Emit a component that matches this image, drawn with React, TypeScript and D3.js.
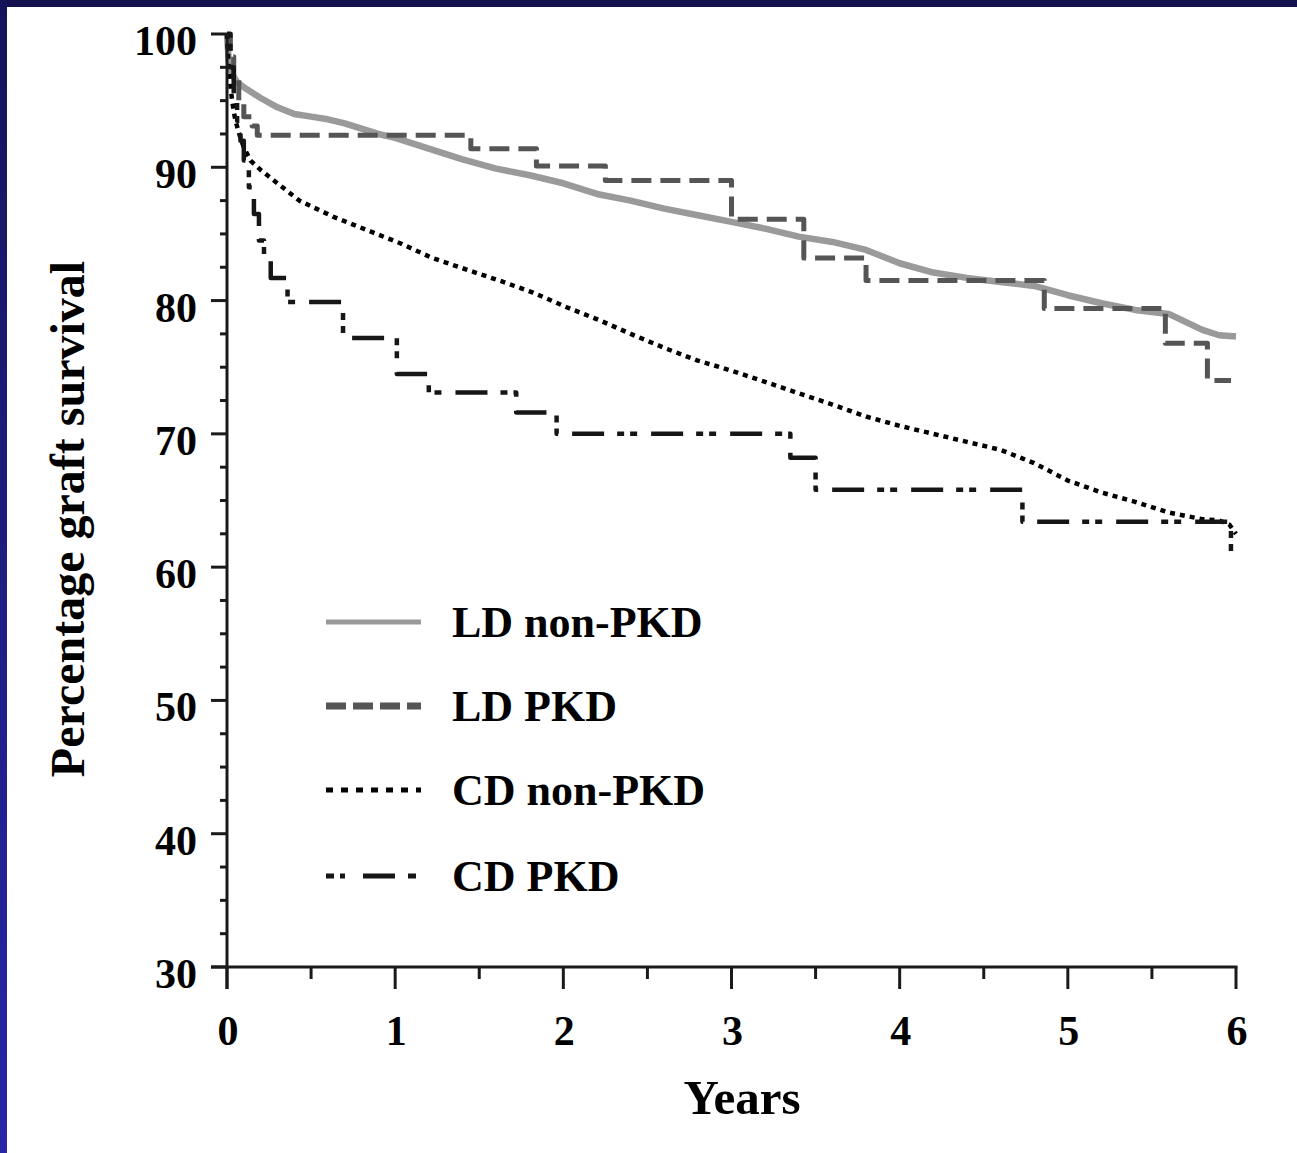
import React, { useEffect } from "react";
import * as d3 from "d3";

// ---- data ----
const yMajorTicks = [30, 40, 50, 60, 70, 80, 90, 100];
const xMajorTicks = [0, 1, 2, 3, 4, 5, 6];

const ldNonPkdYears = [0, 0.01, 0.03, 0.06, 0.1, 0.2, 0.3, 0.4, 0.5, 0.6, 0.7, 0.8, 0.9, 1.0, 1.2, 1.4, 1.6, 1.8, 2.0, 2.2, 2.4, 2.6, 2.8, 3.0, 3.2, 3.4, 3.6, 3.8, 4.0, 4.2, 4.4, 4.6, 4.8, 5.0, 5.2, 5.4, 5.6, 5.7, 5.8, 5.9, 6.0];
const ldNonPkdSurv = [100, 98, 97, 96.4, 96, 95.2, 94.5, 94.0, 93.8, 93.6, 93.3, 92.9, 92.5, 92.2, 91.4, 90.6, 89.9, 89.4, 88.8, 88.0, 87.5, 86.9, 86.4, 85.9, 85.4, 84.8, 84.4, 83.8, 82.8, 82.1, 81.7, 81.4, 81.1, 80.4, 79.8, 79.3, 79.0, 78.4, 77.8, 77.4, 77.3];

const ldPkdYears = [0, 0.02, 0.04, 0.07, 0.1, 0.15, 0.18, 1.45, 1.84, 2.25, 3.0, 3.43, 3.8, 4.86, 5.58, 5.83, 5.97];
const ldPkdSurv = [100, 98.3, 96.6, 95.0, 93.8, 93.1, 92.4, 91.4, 90.1, 89.0, 86.1, 83.2, 81.5, 79.4, 76.8, 74.0, 74.0];

const cdNonPkdYears = [0, 0.01, 0.03, 0.05, 0.08, 0.1, 0.14, 0.2, 0.3, 0.43, 0.63, 0.83, 1.03, 1.22, 1.43, 1.62, 1.82, 2.02, 2.22, 2.4, 2.61, 2.8, 3.01, 3.2, 3.41, 3.6, 3.8, 4.0, 4.2, 4.4, 4.6, 4.8, 5.0, 5.2, 5.4, 5.6, 5.8, 5.9, 5.96, 6.0];
const cdNonPkdSurv = [100, 97.5, 95, 93.5, 92.2, 91.5, 90.5, 89.8, 88.8, 87.5, 86.3, 85.3, 84.3, 83.2, 82.3, 81.5, 80.6, 79.5, 78.5, 77.5, 76.4, 75.5, 74.7, 73.9, 73.0, 72.2, 71.3, 70.6, 70.0, 69.4, 68.8, 67.8, 66.5, 65.6, 64.9, 64.1, 63.6, 63.5, 63.2, 62.5];

const cdPkdYears = [0, 0.02, 0.04, 0.06, 0.08, 0.1, 0.13, 0.16, 0.19, 0.22, 0.26, 0.36, 0.69, 1.01, 1.2, 1.72, 1.96, 3.35, 3.5, 4.73, 5.97, 6.0];
const cdPkdSurv = [100, 97.5, 95.5, 93.5, 92, 90.5, 88.5, 86.5, 84.5, 83, 81.7, 79.9, 77.2, 74.5, 73.1, 71.6, 70.0, 68.2, 65.8, 63.4, 60.6, 60.6];

const seriesNames = ["LD non-PKD", "LD PKD", "CD non-PKD", "CD PKD"];

// ---- styles ----
const seriesStyles = [
  { stroke: "#9a9a9a", width: 6.5, dash: "", curve: d3.curveLinear },
  { stroke: "#555555", width: 5, dash: "20,9", curve: d3.curveStepAfter },
  { stroke: "#000000", width: 4.5, dash: "5,5", curve: d3.curveLinear },
  { stroke: "#161616", width: 4.5, dash: "7,6,7,14,32,13", curve: d3.curveStepAfter },
];
const legendDash = ["", "20,7", "7,8", "8,6,5,18,32,13"];

const W = 1297;
const H = 1153;
const FONT = "'Liberation Serif', 'Times New Roman', serif";

export default function App() {
  useEffect(() => {
    document.body.style.margin = "0";
  }, []);

  const x = d3.scaleLinear().domain([0, 6]).range([227, 1236]);
  const y = d3.scaleLinear().domain([30, 100]).range([967, 34]);

  const allSeries = [
    d3.zip(ldNonPkdYears, ldNonPkdSurv),
    d3.zip(ldPkdYears, ldPkdSurv),
    d3.zip(cdNonPkdYears, cdNonPkdSurv),
    d3.zip(cdPkdYears, cdPkdSurv),
  ];

  const yMinor = d3.range(30, 100.01, 2.5).filter((v) => !yMajorTicks.includes(v));
  const xMinor = d3.range(0.5, 6, 1);

  const legendRows = [622, 706, 790, 876];

  return (
    <svg width={W} height={H} style={{ position: "absolute", left: 0, top: 0, display: "block" }}>
      <defs>
        <linearGradient id="leftBand" x1="0" y1="0" x2="0" y2="1">
          <stop offset="0" stopColor="#15135a" />
          <stop offset="1" stopColor="#2727a8" />
        </linearGradient>
      </defs>
      <rect x={0} y={0} width={W} height={H} fill="#ffffff" />
      <rect x={0} y={0} width={W} height={7} fill="#13124e" />
      <rect x={0} y={0} width={7} height={H} fill="url(#leftBand)" />

      {/* series */}
      {allSeries.map((pts, i) => {
        const s = seriesStyles[i];
        const gen = d3
          .line<[number, number]>()
          .x((d) => x(d[0]))
          .y((d) => y(d[1]))
          .curve(s.curve);
        return (
          <path
            key={seriesNames[i]}
            d={gen(pts as [number, number][]) || ""}
            fill="none"
            stroke={s.stroke}
            strokeWidth={s.width}
            strokeDasharray={s.dash || undefined}
            strokeLinejoin="round"
          />
        );
      })}

      {/* axes */}
      <g stroke="#1a1a1a" strokeWidth={3} fill="none">
        <line x1={x(0)} x2={x(0)} y1={y(100) - 1} y2={y(30) + 22} />
        <line x1={x(0) - 16} x2={x(6) + 1.5} y1={y(30)} y2={y(30)} />
        {yMajorTicks.map((v) => (
          <line key={"ym" + v} x1={x(0) - 16} x2={x(0)} y1={y(v)} y2={y(v)} />
        ))}
        {yMinor.map((v) => (
          <line key={"yn" + v} x1={x(0) - 7} x2={x(0)} y1={y(v)} y2={y(v)} />
        ))}
        {xMajorTicks.map((v) => (
          <line key={"xm" + v} x1={x(v)} x2={x(v)} y1={y(30)} y2={y(30) + 22} />
        ))}
        {xMinor.map((v) => (
          <line key={"xn" + v} x1={x(v)} x2={x(v)} y1={y(30)} y2={y(30) + 12} />
        ))}
      </g>

      {/* tick labels */}
      <g fontFamily={FONT} fontWeight="bold" fontSize={42} fill="#000">
        {yMajorTicks.map((v) => (
          <text key={"yl" + v} x={197} y={y(v) + 21} textAnchor="end">
            {v}
          </text>
        ))}
        {xMajorTicks.map((v) => (
          <text key={"xl" + v} x={x(v) + 1} y={1045} textAnchor="middle">
            {v}
          </text>
        ))}
      </g>

      {/* axis titles */}
      <text x={742} y={1114} textAnchor="middle" fontFamily={FONT} fontWeight="bold" fontSize={49} fill="#000">
        Years
      </text>
      <text
        transform="translate(84,519) rotate(-90)"
        textAnchor="middle"
        fontFamily={FONT}
        fontWeight="bold"
        fontSize={48}
        fill="#000"
      >
        Percentage graft survival
      </text>

      {/* legend */}
      {seriesNames.map((name, i) => {
        const s = seriesStyles[i];
        const ly = legendRows[i];
        return (
          <g key={"lg" + name}>
            <line
              x1={326}
              x2={421}
              y1={ly}
              y2={ly}
              stroke={s.stroke}
              strokeWidth={i === 0 ? 5 : i === 1 ? 7 : 5}
              strokeDasharray={legendDash[i] || undefined}
            />
            <text x={452} y={ly + 15} fontFamily={FONT} fontWeight="bold" fontSize={44} fill="#000">
              {name}
            </text>
          </g>
        );
      })}
    </svg>
  );
}
